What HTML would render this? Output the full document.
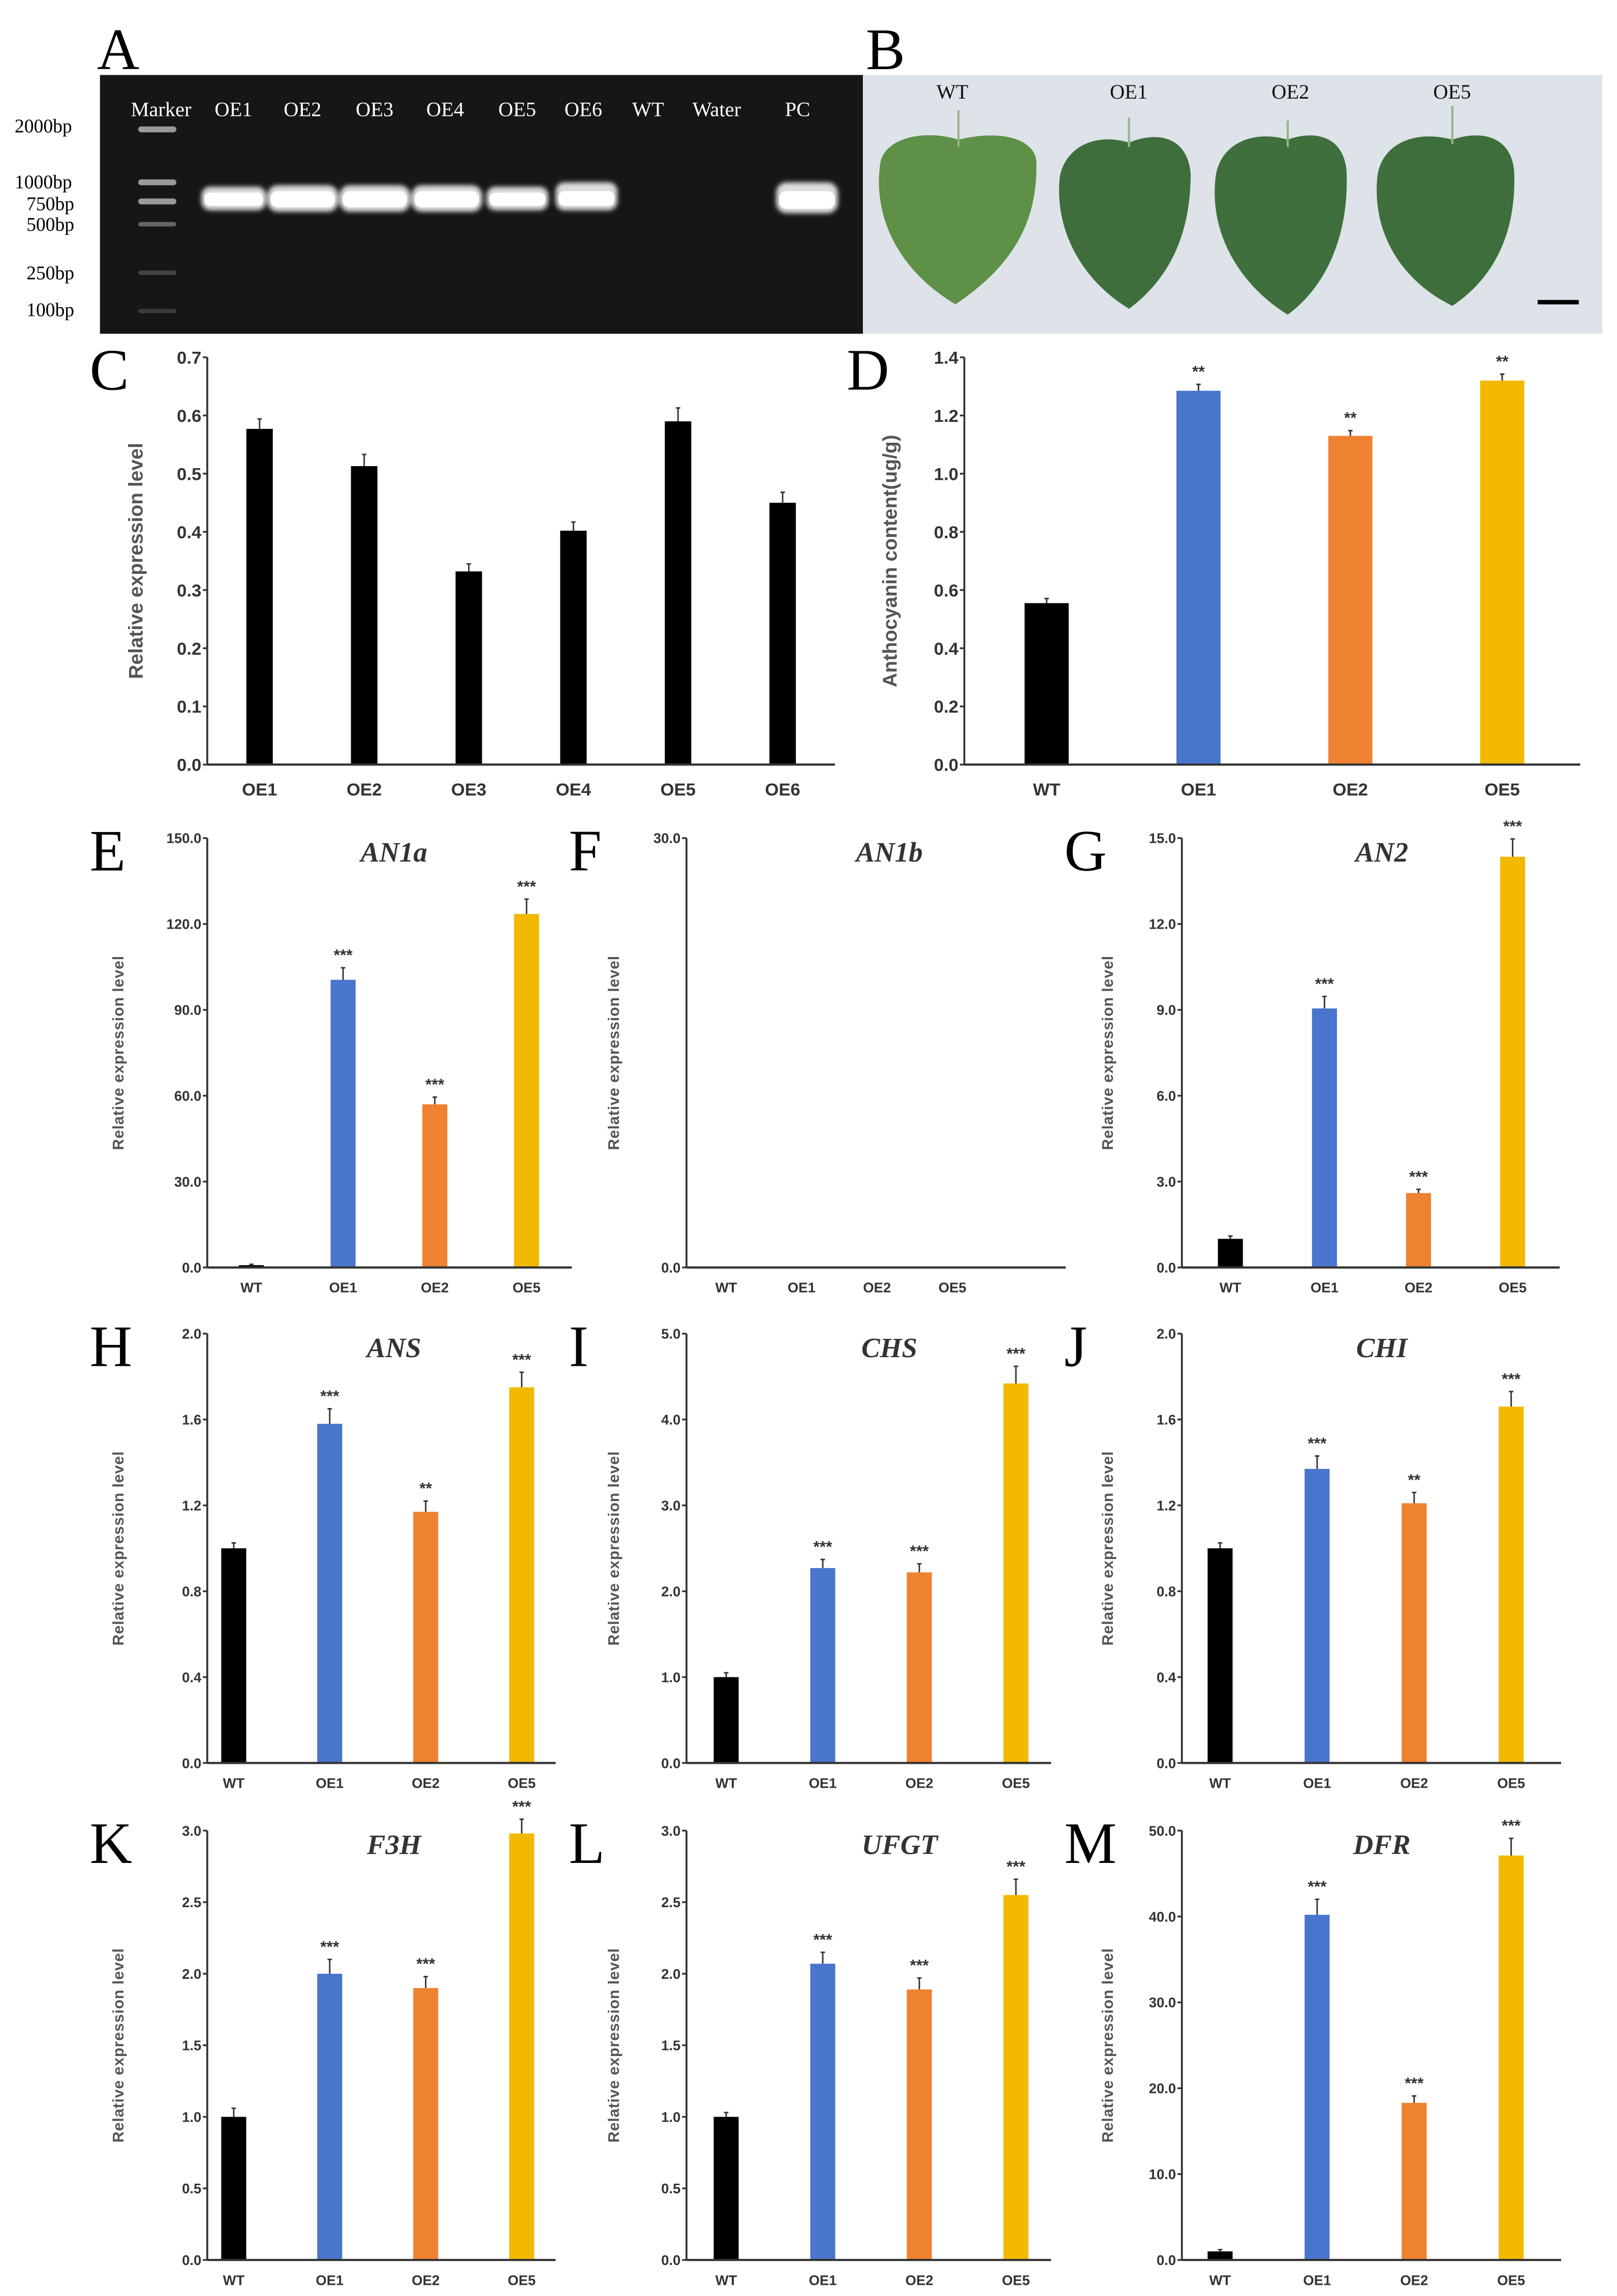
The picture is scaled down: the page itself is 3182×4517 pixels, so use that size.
<!DOCTYPE html>
<html><head><meta charset="utf-8"><style>
html,body{margin:0;padding:0;background:#fff}
svg{display:block}
.tick{font-family:"Liberation Sans",sans-serif;font-weight:bold;fill:#333}
.cat{font-family:"Liberation Sans",sans-serif;font-weight:bold;fill:#333}
.ytitle{font-family:"Liberation Sans",sans-serif;font-weight:bold;fill:#555}
.gene{font-family:"Liberation Serif",serif;font-style:italic;font-weight:bold;fill:#333}
.plab{font-family:"Liberation Serif",serif;fill:#000}
.gel{font-family:"Liberation Serif",serif;fill:#fff}
</style></head><body>
<svg id="fig" width="3182" height="4517" viewBox="0 0 1100 1561.5" xmlns="http://www.w3.org/2000/svg">
<defs><filter id="glow" x="-30%" y="-80%" width="160%" height="260%"><feGaussianBlur stdDeviation="1.6"/></filter></defs>
<!-- Panel A gel -->
<g>
<text class="plab" x="66" y="47" font-size="40">A</text>
<rect x="68" y="51" width="519" height="176" fill="#161616"/>
<g font-size="14">
<text class="gel" x="89" y="79">Marker</text>
<text class="gel" x="146" y="79">OE1</text>
<text class="gel" x="193" y="79">OE2</text>
<text class="gel" x="242" y="79">OE3</text>
<text class="gel" x="290" y="79">OE4</text>
<text class="gel" x="339" y="79">OE5</text>
<text class="gel" x="384" y="79">OE6</text>
<text class="gel" x="430" y="79">WT</text>
<text class="gel" x="471" y="79">Water</text>
<text class="gel" x="534" y="79">PC</text>
</g>
<g font-size="13" fill="#000" font-family="Liberation Serif,serif">
<text x="10" y="90">2000bp</text>
<text x="10" y="128">1000bp</text>
<text x="18" y="143">750bp</text>
<text x="18" y="157">500bp</text>
<text x="18" y="190">250bp</text>
<text x="18" y="215">100bp</text>
</g>
<g fill="#999">
<rect x="94" y="86" width="26" height="4" rx="2"/><rect x="94" y="122" width="26" height="4" rx="2"/>
<rect x="94" y="135" width="26" height="4" rx="2"/><rect x="94" y="151" width="26" height="3" rx="2" fill="#666"/>
<rect x="94" y="184" width="26" height="3" rx="2" fill="#444"/><rect x="94" y="210" width="26" height="3" rx="2" fill="#3a3a3a"/>
</g>
<g fill="#ddd" filter="url(#glow)">
<rect x="137" y="127" width="44" height="16" rx="6"/><rect x="182" y="126" width="48" height="18" rx="7"/>
<rect x="231" y="126" width="48" height="18" rx="7"/><rect x="280" y="126" width="48" height="18" rx="7"/>
<rect x="331" y="127" width="42" height="16" rx="6"/><rect x="378" y="124" width="42" height="19" rx="6"/>
<rect x="528" y="124" width="42" height="21" rx="7"/>
</g>
<g fill="#fff">
<rect x="139" y="131" width="40" height="9" rx="4"/><rect x="184" y="130" width="44" height="11" rx="5"/>
<rect x="233" y="130" width="44" height="11" rx="5"/><rect x="282" y="130" width="44" height="11" rx="5"/>
<rect x="333" y="131" width="38" height="9" rx="4"/><rect x="380" y="130" width="38" height="10" rx="4"/>
<rect x="530" y="130" width="38" height="12" rx="5"/>
</g>
</g>
<!-- Panel B leaves -->
<g>
<text class="plab" x="589" y="47" font-size="40">B</text>
<rect x="587" y="51" width="503" height="176" fill="#dde3e8"/>
<g font-size="14" fill="#111" font-family="Liberation Serif,serif">
<text x="637" y="67">WT</text>
<text x="755" y="67">OE1</text>
<text x="865" y="67">OE2</text>
<text x="975" y="67">OE5</text>
</g>
<path d="M652 95 C630 88 603 93 599 110 C594 140 605 180 650 207 C690 180 706 150 705 110 C704 94 680 88 652 95Z" fill="#5e9048"/>
<path d="M768 97 C745 90 725 100 721 120 C717 155 735 190 768 210 C795 190 810 160 810 118 C808 95 790 88 768 97Z" fill="#3f6e3c"/>
<path d="M876 95 C852 88 830 98 827 120 C822 160 845 195 876 214 C902 195 918 160 916 116 C914 93 895 88 876 95Z" fill="#3f6f3c"/>
<path d="M988 95 C962 88 940 98 937 120 C933 160 955 192 988 208 C1015 190 1032 160 1030 116 C1028 93 1008 88 988 95Z" fill="#3e6e3b"/>
<g stroke="#9bb38a" stroke-width="1.5">
<line x1="652" y1="75" x2="652" y2="100"/><line x1="768" y1="80" x2="768" y2="100"/><line x1="876" y1="82" x2="876" y2="100"/><line x1="988" y1="72" x2="988" y2="98"/>
</g>
<rect x="1046" y="204" width="28" height="3" fill="#000"/>
</g>
<g id="charts"></g>
</svg>
<script>
const blue="#4a75cd",orange="#ef8230",yellow="#f2b900",black="#000";
const cCats=["OE1","OE2","OE3","OE4","OE5","OE6"];
const cValues=[0.577,0.513,0.332,0.402,0.590,0.450];
const cErrors=[0.017,0.020,0.013,0.015,0.023,0.018];
const cTicks=["0.0","0.1","0.2","0.3","0.4","0.5","0.6","0.7"];
const geneCats=["WT","OE1","OE2","OE5"];
const dValues=[0.555,1.285,1.130,1.320];
const dErrors=[0.016,0.022,0.018,0.022];
const dStars=["","**","**","**"];
const dTicks=["0.0","0.2","0.4","0.6","0.8","1.0","1.2","1.4"];
const eValues=[0.8,100.5,57.0,123.5];
const eErrors=[0.3,4.2,2.5,5.2];
const eStars=["","***","***","***"];
const eTicks=["0.0","30.0","60.0","90.0","120.0","150.0"];
const fValues=[0,0,0,0];
const fErrors=[0,0,0,0];
const fStars=["","","",""];
const fTicks=["0.0","30.0"];
const gValues=[1.0,9.05,2.6,14.35];
const gErrors=[0.1,0.42,0.13,0.62];
const gStars=["","***","***","***"];
const gTicks=["0.0","3.0","6.0","9.0","12.0","15.0"];
const hValues=[1.0,1.58,1.17,1.75];
const hErrors=[0.025,0.07,0.05,0.07];
const hStars=["","***","**","***"];
const hTicks=["0.0","0.4","0.8","1.2","1.6","2.0"];
const iValues=[1.0,2.27,2.22,4.42];
const iErrors=[0.05,0.1,0.1,0.2];
const iStars=["","***","***","***"];
const iTicks=["0.0","1.0","2.0","3.0","4.0","5.0"];
const jValues=[1.0,1.37,1.21,1.66];
const jErrors=[0.025,0.06,0.05,0.07];
const jStars=["","***","**","***"];
const jTicks=["0.0","0.4","0.8","1.2","1.6","2.0"];
const kValues=[1.0,2.0,1.9,2.98];
const kErrors=[0.06,0.1,0.08,0.1];
const kStars=["","***","***","***"];
const kTicks=["0.0","0.5","1.0","1.5","2.0","2.5","3.0"];
const lValues=[1.0,2.07,1.89,2.55];
const lErrors=[0.03,0.08,0.08,0.11];
const lStars=["","***","***","***"];
const lTicks=["0.0","0.5","1.0","1.5","2.0","2.5","3.0"];
const mValues=[1.0,40.2,18.3,47.1];
const mErrors=[0.2,1.8,0.8,2.0];
const mStars=["","***","***","***"];
const mTicks=["0.0","10.0","20.0","30.0","40.0","50.0"];

const NS="http://www.w3.org/2000/svg";
const root=document.getElementById("charts");
function mk(tag,attrs,parent){const e=document.createElementNS(NS,tag);for(const k in attrs)e.setAttribute(k,attrs[k]);parent.appendChild(e);return e;}

function chart(o){
  const g=mk("g",{},root);
  
  
  const max=parseFloat(o.ticks[o.ticks.length-1]);
  const y=v=>o.y1-(v/max)*(o.y1-o.y0);
  const n=o.cats.length,step=o.step||(o.x1-o.x0)/n;
  const first=o.first||(o.x0+step*0.5);
  const xc=i=>first+step*i;
  const lab=mk("text",{x:o.x0-80,y:o.y0+22,class:"plab","font-size":40},g);
  lab.textContent=o.letter;
  
  
  if(o.gene){const t=mk("text",{x:o.gx,y:o.y0+16,class:"gene","font-size":19,"text-anchor":"middle"},g);t.textContent=o.gene;
    
    }
  const yt=mk("text",{x:0,y:0,class:"ytitle","font-size":o.tfs,"text-anchor":"middle",transform:`translate(${o.tx},${(o.y0+o.y1)/2}) rotate(-90)`,"letter-spacing":o.ls||0},g);
  yt.textContent=o.title;
  
  
  o.ticks.forEach((t,i)=>{const v=parseFloat(t);const yy=y(v);
    const l=mk("line",{x1:o.x0-3,x2:o.x0,y1:yy,y2:yy,stroke:"#333","stroke-width":1.2},g);
    
    
    const tx=mk("text",{x:o.x0-4,y:yy+o.fs*0.36,class:"tick","font-size":o.fs,"text-anchor":"end"},g);tx.textContent=t;
    
    });
  const ya=mk("line",{x1:o.x0,x2:o.x0,y1:o.y0,y2:o.y1,stroke:"#333","stroke-width":1.3},g);
  
  
  o.values.forEach((v,i)=>{
    const cx=xc(i),top=y(v);
    if(v>0){const r=mk("rect",{x:cx-o.bw/2,y:top,width:o.bw,height:o.y1-top,fill:o.colors[i]},g);
      
      
      const et=y(v+o.errors[i]);
      const e=mk("path",{d:`M${cx} ${top}V${et}M${cx-1.5} ${et}H${cx+1.5}`,stroke:"#333","stroke-width":1,fill:"none"},g);
      
      
      if(o.stars&&o.stars[i]){const s=mk("text",{x:cx,y:et-5,class:"cat","font-size":11,"text-anchor":"middle"},g);s.textContent=o.stars[i];
        
        }
    }
    const c=mk("text",{x:cx,y:o.y1+o.cy,class:"cat","font-size":o.cfs,"text-anchor":"middle"},g);c.textContent=o.cats[i];
    
    
  });
  const xa=mk("line",{x1:o.x0,x2:o.x1,y1:o.y1,y2:o.y1,stroke:"#333","stroke-width":1.5},g);
  
  
}
const four=[black,blue,orange,yellow];
chart({id:"c",letter:"C",x0:141,x1:568,y0:243,y1:520,cats:cCats,values:cValues,errors:cErrors,ticks:cTicks,colors:cCats.map(()=>black),bw:18,fs:12,cfs:12,cy:21,title:"Relative expression level",tfs:13.5,tx:97});
chart({id:"d",letter:"D",x0:656,x1:1075,y0:243,y1:520,first:712,step:103.3,cats:geneCats,values:dValues,errors:dErrors,stars:dStars,ticks:dTicks,colors:four,bw:30,fs:12,cfs:12,cy:21,title:"Anthocyanin content(ug/g)",tfs:13.5,tx:610});
const rows=[570,907,1245];
// per row, per column: [axisX, axisEnd, titleX, firstBarX, step, geneTitleX]
const layout=[
 [[141,389,80,171,62.4,268],[467,725,417,494,51.3,605],[804,1061,753,837,64,940]],
 [[141,378,80,159,65.3,268],[467,715,417,494,65.7,605],[804,1062,753,830,66,940]],
 [[141,378,80,159,65.3,268],[467,715,417,494,65.7,612],[804,1062,753,830,66,940]]];
const genes=[["e","E","AN1a",eValues,eErrors,eStars,eTicks],["f","F","AN1b",fValues,fErrors,fStars,fTicks],["g","G","AN2",gValues,gErrors,gStars,gTicks],
["h","H","ANS",hValues,hErrors,hStars,hTicks],["i","I","CHS",iValues,iErrors,iStars,iTicks],["j","J","CHI",jValues,jErrors,jStars,jTicks],
["k","K","F3H",kValues,kErrors,kStars,kTicks],["l","L","UFGT",lValues,lErrors,lStars,lTicks],["m","M","DFR",mValues,mErrors,mStars,mTicks]];
genes.forEach((gd,k)=>{const r=Math.floor(k/3),c=k%3;const L=layout[r][c];
  chart({id:gd[0],letter:gd[1],gene:gd[2],x0:L[0],x1:L[1],first:L[3],step:L[4],gx:L[5],y0:rows[r],y1:rows[r]+292,cats:geneCats,values:gd[3],errors:gd[4],stars:gd[5],ticks:gd[6],colors:four,bw:17,fs:9.5,cfs:9.5,cy:17,title:"Relative expression level",tfs:10.5,tx:L[2]+4,ls:0.3});
});
</script>
</body></html>
